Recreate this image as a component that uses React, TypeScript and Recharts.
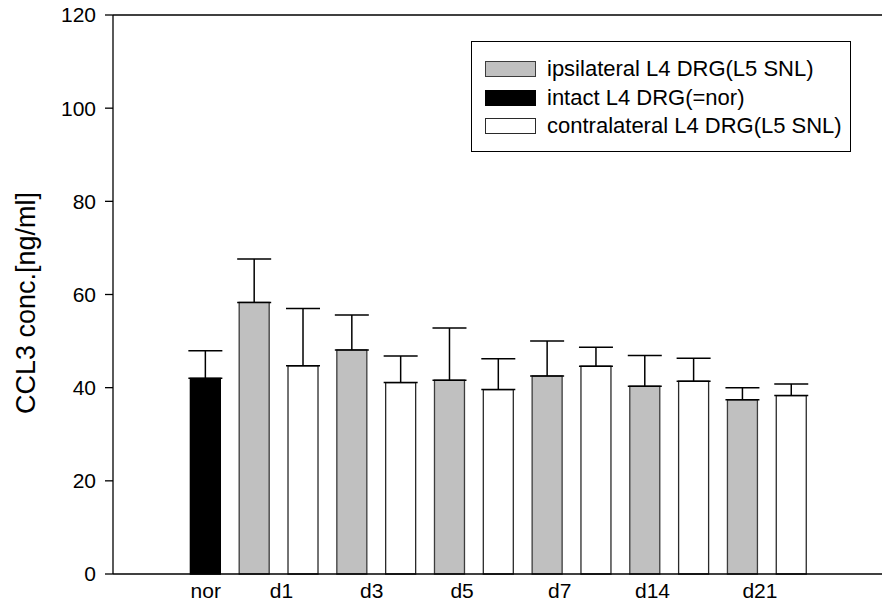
import React from 'react';
import { BarChart, Bar, XAxis, YAxis, Cell, ErrorBar, ReferenceLine, Legend } from 'recharts';

const FONT = '"Liberation Sans", Arial, Helvetica, sans-serif';

// bar order, left to right
const groups = ['intact', 'ipsi', 'contra', 'ipsi', 'contra', 'ipsi', 'contra', 'ipsi', 'contra', 'ipsi', 'contra', 'ipsi', 'contra'];
const means = [42.0, 58.3, 44.7, 48.1, 41.1, 41.6, 39.6, 42.5, 44.6, 40.3, 41.4, 37.4, 38.3];
const upperErrors = [5.9, 9.3, 12.3, 7.5, 5.7, 11.2, 6.6, 7.5, 4.1, 6.6, 4.9, 2.6, 2.5];

// category tick labels and where they sit along the bar index axis
const tickLabels = ['nor', 'd1', 'd3', 'd5', 'd7', 'd14', 'd21'];
const tickPositions = [0, 1.55, 3.4, 5.25, 7.25, 9.15, 11.35];
const yTicks = [0, 20, 40, 60, 80, 100, 120];

const seriesNames: Record<string, string> = {
  ipsi: 'ipsilateral L4 DRG(L5 SNL)',
  intact: 'intact L4 DRG(=nor)',
  contra: 'contralateral L4 DRG(L5 SNL)',
};
const legendOrder = ['ipsi', 'intact', 'contra'];
const fills: Record<string, string> = { ipsi: '#c0c0c0', intact: '#000000', contra: '#ffffff' };
const strokes: Record<string, string> = { ipsi: '#3c3c3c', intact: '#000000', contra: '#2a2a2a' };

const data = means.map((m, i) => ({ pos: i, value: m, err: [0, upperErrors[i]], group: groups[i] }));

const legendRowTops = [19, 48, 76];

const renderLegend = () => (
  <div
    style={{
      position: 'relative',
      width: 380,
      height: 111,
      border: '1px solid #000',
      boxSizing: 'border-box',
      background: '#fff',
      fontFamily: FONT,
    }}
  >
    {legendOrder.map((k, i) => (
      <div
        key={k}
        style={{
          position: 'absolute',
          left: 13,
          top: legendRowTops[i],
          height: 16,
          display: 'flex',
          alignItems: 'center',
          whiteSpace: 'nowrap',
        }}
      >
        <div
          style={{
            width: 51,
            height: 16,
            background: fills[k],
            border: `1px solid ${strokes[k]}`,
            boxSizing: 'border-box',
          }}
        />
        <span style={{ marginLeft: 11, fontSize: 22, color: '#000', lineHeight: '16px' }}>{seriesNames[k]}</span>
      </div>
    ))}
  </div>
);

const renderYLabel = () => (
  <text
    x={26}
    y={303}
    transform="rotate(-90 26 303)"
    textAnchor="middle"
    dominantBaseline="central"
    fontFamily={FONT}
    fontSize={27}
    fill="#000"
  >
    CCL3 conc.[ng/ml]
  </text>
);

export default function App() {
  return (
    <div style={{ position: 'absolute', left: 0, top: 0, width: 882, height: 606, overflow: 'hidden', background: '#fff' }}>
      <style>{'html,body{margin:0;padding:0;overflow:hidden;background:#fff}'}</style>
      <BarChart
        width={882}
        height={606}
        data={data}
        margin={{ top: 15, right: 0, bottom: 0, left: 0 }}
        style={{ fontFamily: FONT }}
      >
        <XAxis
          type="number"
          dataKey="pos"
          domain={[-1.9, 13.85]}
          allowDataOverflow
          ticks={tickPositions}
          interval={0}
          tickFormatter={(v: number) => tickLabels[tickPositions.indexOf(v)] ?? ''}
          tickLine={false}
          tickSize={0}
          tickMargin={9}
          height={32}
          axisLine={{ stroke: '#000', strokeWidth: 1.3 }}
          tick={{ fontFamily: FONT, fontSize: 21, fill: '#000' }}
        />
        <YAxis
          type="number"
          domain={[0, 120]}
          ticks={yTicks}
          interval={0}
          width={113}
          tickSize={8}
          tickMargin={9}
          axisLine={{ stroke: '#000', strokeWidth: 1.3 }}
          tickLine={{ stroke: '#000', strokeWidth: 1.3 }}
          tick={{ fontFamily: FONT, fontSize: 21, fill: '#000' }}
          label={{ content: renderYLabel }}
        />
        <ReferenceLine y={120} stroke="#000" strokeWidth={1.3} />
        <Legend
          layout="vertical"
          align="center"
          verticalAlign="middle"
          content={renderLegend}
          wrapperStyle={{ position: 'absolute', left: 471, top: 41, width: 380, height: 111 }}
        />
        <Bar dataKey="value" barSize={30} isAnimationActive={false}>
          {data.map((d, i) => (
            <Cell key={i} fill={fills[d.group]} stroke={strokes[d.group]} strokeWidth={1.3} />
          ))}
          <ErrorBar dataKey="err" direction="y" width={17} stroke="#000" strokeWidth={1.5} isAnimationActive={false} />
        </Bar>
      </BarChart>
    </div>
  );
}
